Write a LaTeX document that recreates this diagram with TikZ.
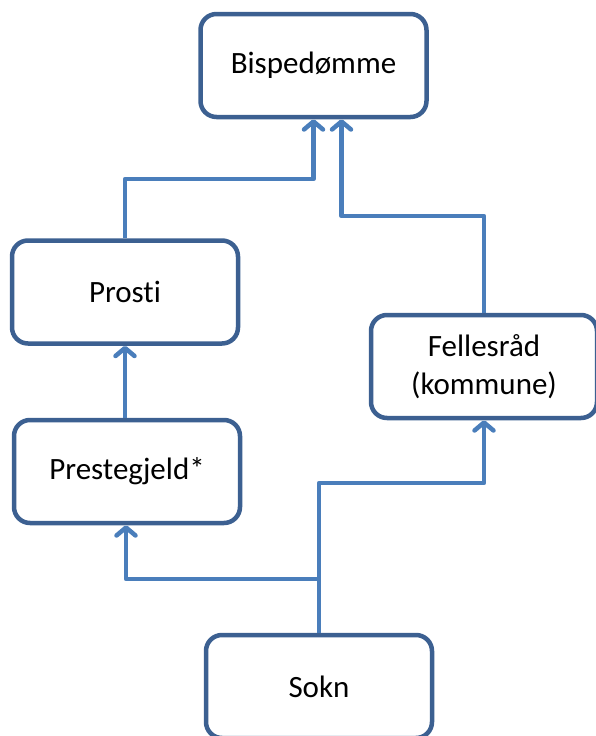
\documentclass[tikz,border=0pt]{standalone}
\usepackage{fontspec}
\setmainfont{Carlito}[Ligatures=NoCommon]
\usetikzlibrary{arrows.meta, positioning}

\definecolor{boxline}{HTML}{3C6091}
\definecolor{linkline}{HTML}{4A7EBB}

\tikzset{
  unit/.style={draw=boxline, line width=4.5pt, rounded corners=16pt, fill=white,
               minimum width=226pt, minimum height=103pt, inner sep=0pt,
               align=center, font=\fontsize{31}{38}\selectfont},
  link/.style={draw=linkline, line width=4.5pt, line join=round,
               -{Straight Barb[length=8pt, width=19pt, round]}}
}

\begin{document}
\begin{tikzpicture}[x=1pt, y=-1pt]
    \useasboundingbox (0,0) rectangle (595,736);
    \node[unit] (bisp)      at (313.5,65.5) {Bispedømme};
    \node[unit] (prosti)    at (125,292)    {Prosti};
    \node[unit] (presteg)   at (127,471.5)  {Prestegjeld*};
    \node[unit] (fellesrad) at (484,366.5)  {Fellesråd\\(kommune)};
    \node[unit] (sokn)      at (319,686.5)  {Sokn};
    \draw[link] (prosti.north) -- (prosti.north |- 0,179) -| (bisp.south);
    \draw[link] (fellesrad.north) -- (fellesrad.north |- 0,216) -| ([xshift=28pt]bisp.south);
    \draw[link] (prosti.south |- presteg.north) -- (prosti.south);
    \draw[link] (sokn.north) -- (sokn.north |- 0,579) -| ([xshift=-1pt]presteg.south);
    \draw[link] (sokn.north) -- (sokn.north |- 0,483) -| (fellesrad.south);
\end{tikzpicture}
\end{document}
